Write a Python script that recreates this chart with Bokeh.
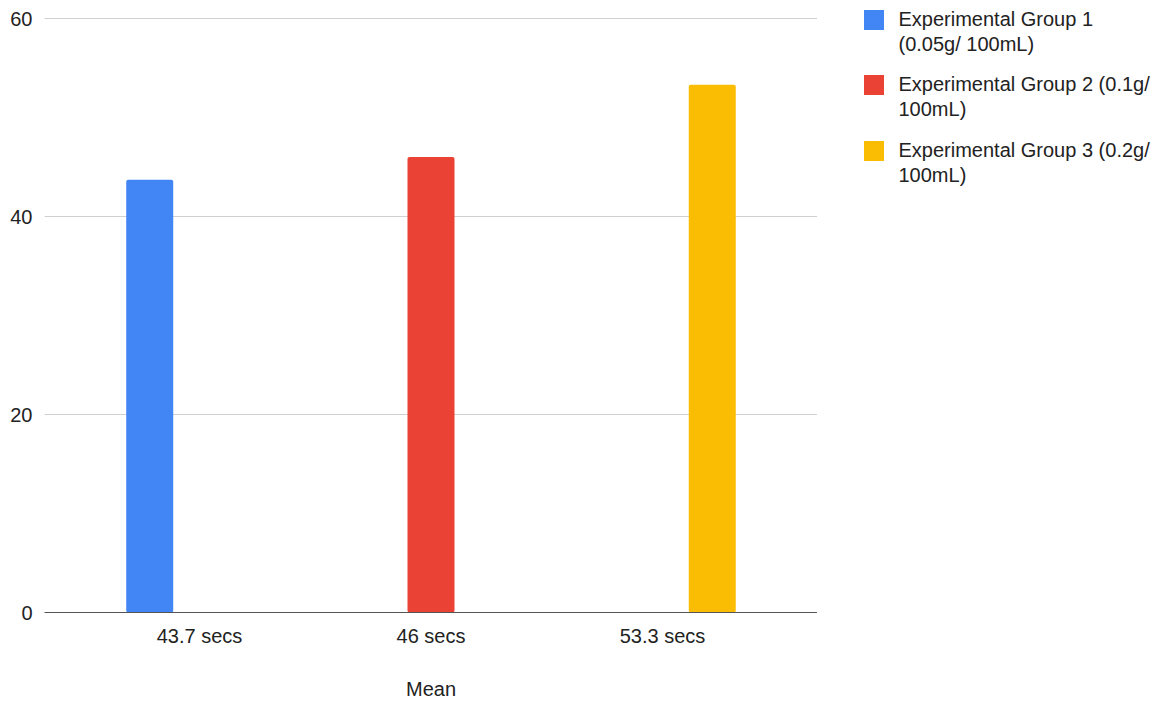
from bokeh.plotting import figure
from bokeh.layouts import row
from bokeh.models import Range1d, FixedTicker, Legend, LegendItem, ColumnDataSource
from bokeh.embed import file_html
from bokeh.resources import INLINE

# ---- data ----
categories = ["43.7 secs", "46 secs", "53.3 secs"]
group_label_lines = [
    ["Experimental Group 1", "(0.05g/ 100mL)"],
    ["Experimental Group 2 (0.1g/", "100mL)"],
    ["Experimental Group 3 (0.2g/", "100mL)"],
]
group1 = [43.7, None, None]
group2 = [None, 46.0, None]
group3 = [None, None, 53.3]
series = [group1, group2, group3]
y_ticks = [0, 20, 40, 60]
x_title = "Mean"

colors = ["#4285F4", "#EA4335", "#FBBC04"]
FONT = "Liberation Sans"
TEXT = "#222222"

# ---- geometry ----
W, H = 1169, 702
left, right, top, bottom = 44, 817, 0, 612
grid_top_px = 18
px_per_unit_y = (bottom - grid_top_px) / y_ticks[-1]
y_end = (bottom - top) / px_per_unit_y

cat_px = 231.5
frame_units = (right - left) / cat_px
center_cat = (len(categories) - 1) / 2
x_start = center_cat - frame_units / 2
x_end = center_cat + frame_units / 2

p = figure(width=right, height=H, output_backend="svg", toolbar_location=None,
           x_range=Range1d(x_start, x_end), y_range=Range1d(0, y_end),
           min_border_left=left, min_border_right=0,
           min_border_top=top, min_border_bottom=H - bottom)
p.outline_line_color = None
p.background_fill_color = "white"
p.border_fill_color = "white"

offset = 0.215
bar_w = 0.203
for g, vals in enumerate(series):
    xs = [i + (g - 1) * offset for i in range(len(categories))]
    tops = [float("nan") if v is None else v for v in vals]
    src = ColumnDataSource(dict(x=xs, top=tops))
    p.vbar(x="x", top="top", bottom=0, width=bar_w, source=src,
           fill_color=colors[g], line_color=None, border_radius=2)

# axes
p.xgrid.visible = False
p.ygrid.ticker = FixedTicker(ticks=y_ticks[1:])
p.ygrid.grid_line_color = "#d0d0d0"
p.ygrid.grid_line_width = 1

p.yaxis.ticker = FixedTicker(ticks=y_ticks)
p.yaxis.axis_line_color = None
p.yaxis.major_tick_line_color = None
p.yaxis.minor_tick_line_color = None
p.yaxis.major_tick_out = 0
p.yaxis.major_tick_in = 0
p.yaxis.major_label_standoff = 12
p.yaxis.major_label_text_font = FONT
p.yaxis.major_label_text_font_size = "20px"
p.yaxis.major_label_text_color = TEXT

p.xaxis.ticker = FixedTicker(ticks=list(range(len(categories))))
p.xaxis.major_label_overrides = {i: c for i, c in enumerate(categories)}
p.xaxis.axis_line_color = "#555555"
p.xaxis.axis_line_width = 1
p.xaxis.major_tick_line_color = None
p.xaxis.minor_tick_line_color = None
p.xaxis.major_tick_out = 0
p.xaxis.major_tick_in = 0
p.xaxis.major_label_standoff = 12
p.xaxis.major_label_text_font = FONT
p.xaxis.major_label_text_font_size = "20px"
p.xaxis.major_label_text_color = TEXT
p.xaxis.axis_label = x_title
p.xaxis.axis_label_text_font = FONT
p.xaxis.axis_label_text_font_size = "20px"
p.xaxis.axis_label_text_font_style = "normal"
p.xaxis.axis_label_text_color = TEXT
p.xaxis.axis_label_standoff = 28

# ---- legend panel (separate figure to the right; its frame aligns with p's) ----
LW = W - right
p2 = figure(width=LW, height=H, output_backend="svg", toolbar_location=None,
            x_range=Range1d(0, 1), y_range=Range1d(0, 1),
            x_axis_location=None, y_axis_location=None,
            min_border_left=0, min_border_right=0,
            min_border_top=top, min_border_bottom=H - bottom)
p2.outline_line_color = None
p2.xgrid.visible = False
p2.ygrid.visible = False
p2.background_fill_color = "white"
p2.border_fill_color = "white"

# swatch renderers kept far outside the visible range of the legend panel
hidden = dict(x=[50.0], top=[50.0])
blank = p2.vbar(x="x", top="top", bottom=49, width=0.1, source=ColumnDataSource(hidden),
                fill_alpha=0, line_alpha=0)

glyph_box = 25          # area legends are inset 10% on each side -> 20px swatch
inset = glyph_box * 0.1
line_gap = 0
leg_h = 2 * glyph_box + line_gap
glyph_tops = [9, 74.5, 140]
swatch_left = 863
frame_h = bottom - top
for g in range(3):
    r = p2.vbar(x="x", top="top", bottom=49, width=0.1, source=ColumnDataSource(hidden),
                fill_color=colors[g], line_color=None)
    items = [LegendItem(label=group_label_lines[g][0], renderers=[r]),
             LegendItem(label=group_label_lines[g][1], renderers=[blank])]
    leg_top = glyph_tops[g] - inset - top
    lg = Legend(items=items,
                location=(swatch_left - inset - right, frame_h - leg_top - leg_h),
                padding=0, margin=0, spacing=line_gap,
                glyph_width=glyph_box, glyph_height=glyph_box, label_standoff=13,
                label_height=20,
                label_text_font=FONT, label_text_font_size="20px",
                label_text_color=TEXT,
                border_line_color=None, background_fill_alpha=0)
    p2.add_layout(lg, "center")

layout = row(p, p2)
open("out.html", "w").write(file_html(layout, INLINE))
